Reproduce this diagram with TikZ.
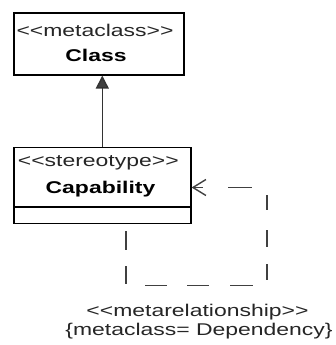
\documentclass[tikz,border=0pt]{standalone}
\usepackage{fontspec}
\setmainfont[FakeStretch=1.35,Ligatures=TeXOff]{Liberation Sans}
\usetikzlibrary{arrows.meta}
\begin{document}
\begin{tikzpicture}[x=1pt,y=-1pt,
  box/.style={draw=black,line width=1.6pt,rectangle,inner sep=0pt,anchor=north west},
  txt/.style={inner sep=0pt,anchor=base,font=\fontsize{17}{20}\selectfont,text=black!85},
  btxt/.style={inner sep=0pt,anchor=base,font=\fontsize{17}{20}\selectfont\bfseries,text=black},
  gen/.style={draw=black!80,line width=1.4pt,-{Triangle[length=13pt,width=13pt,fill=black!75]}},
  dep/.style={draw=black!75,line width=1.5pt,
    dash pattern=on 0pt off 7pt on 19pt off 16pt on 17.7pt off 20.7pt on 22.3pt off 20pt on 22pt off 21pt on 22.7pt off 20pt on 16pt off 17pt on 17pt off 20pt on 15pt off 22.5pt on 24pt off 25pt on 30pt off 100pt,
    -{Straight Barb[length=13pt,width=16pt,line width=1.4pt]}}]
\useasboundingbox (0,0) rectangle (336,345);
\fill[white] (0,0) rectangle (336,345);
% Class box
\node[box,minimum width=170pt,minimum height=62pt] (cls) at (13,12) {};
\node[txt] (clsst) at (95,37) {<<metaclass>>};
\node[btxt] (clsname) at (96,61) {Class};
% Capability box
\node[box,minimum width=177pt,minimum height=76pt] (cap) at (13,146.7) {};
\coordinate (div) at (13,207);
\draw[line width=1.6pt] (div) -- (div -| cap.east);
\node[txt] (capst) at (98.3,166.7) {<<stereotype>>};
\node[btxt] (capname) at (100.5,193.3) {Capability};
% generalization
\draw[gen] (cap.north) -- (cap.north |- cls.south);
% metarelationship
\coordinate (c1) at (126,285.7);
\coordinate (c2) at (267,285.7);
\coordinate (c3) at (267,187.5);
\draw[dep] (cap.south -| c1) -- (c1) -- (c2) -- (c3) -- (c3 -| cap.east);
\node[txt] (mr1) at (197.5,316.7) {<<metarelationship>>};
\node[txt] (mr2) at (199,335) {\{metaclass= Dependency\}};
\end{tikzpicture}
\end{document}
